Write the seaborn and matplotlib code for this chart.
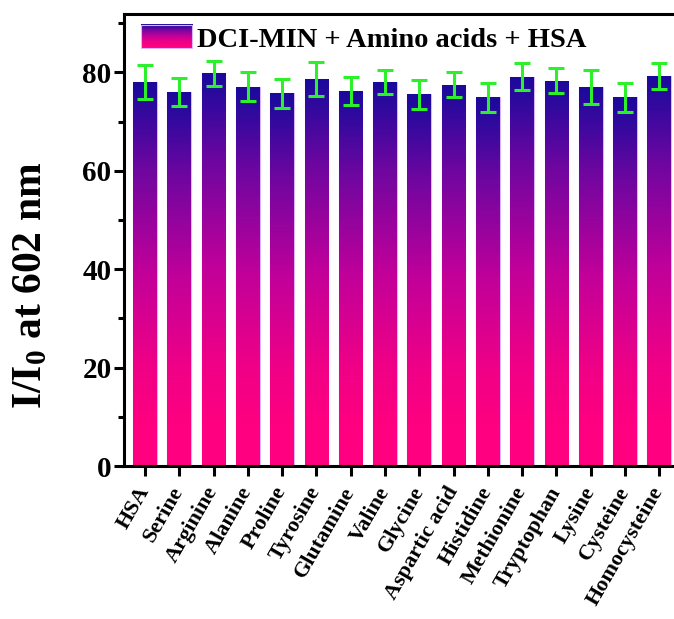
import numpy as np
import pandas as pd
import matplotlib
matplotlib.use("Agg")
import matplotlib.pyplot as plt
import seaborn as sns
from matplotlib.colors import LinearSegmentedColormap
from matplotlib.legend_handler import HandlerBase
from matplotlib.image import BboxImage
from matplotlib.transforms import Bbox, TransformedBbox
from matplotlib.patches import Patch, Rectangle
from matplotlib.ticker import MultipleLocator

categories = ["HSA", "Serine", "Arginine", "Alanine", "Proline", "Tyrosine",
              "Glutamine", "Valine", "Glycine", "Aspartic acid", "Histidine",
              "Methionine", "Tryptophan", "Lysine", "Cysteine", "Homocysteine"]
values = [78.0, 76.0, 79.8, 77.1, 75.7, 78.7, 76.2, 78.0, 75.5, 77.5, 74.9,
          79.1, 78.3, 77.0, 74.9, 79.3]
errors = [3.5, 2.8, 2.6, 3.0, 2.95, 3.45, 2.75, 2.4, 3.0, 2.6, 3.0, 2.7, 2.5,
          3.4, 2.9, 2.6]
legend_label = "DCI-MIN + Amino acids + HSA"
ylabel = r"I/I$_\mathbf{0}$ at 602 nm"

df = pd.DataFrame({"cat": categories, "val": values})

sns.set_theme(style="ticks")
plt.rcParams["font.family"] = ["Liberation Serif", "DejaVu Serif"]
plt.rcParams["font.weight"] = "bold"
plt.rcParams["text.color"] = "black"
plt.rcParams["axes.labelcolor"] = "black"
plt.rcParams["xtick.color"] = "black"
plt.rcParams["ytick.color"] = "black"
plt.rcParams["mathtext.fontset"] = "custom"
plt.rcParams["mathtext.rm"] = "Liberation Serif:bold"
plt.rcParams["mathtext.bf"] = "Liberation Serif:bold"
plt.rcParams["mathtext.it"] = "Liberation Serif:bold"

cmap = LinearSegmentedColormap.from_list(
    "grad",
    [(0.0, "#FF0080"), (0.1, "#FF0080"), (0.26, "#F00086"),
     (0.51, "#C0009A"), (0.77, "#7006A0"), (0.92, "#35099E"),
     (1.0, "#1A0A9C")])

fig = plt.figure(figsize=(6.74, 6.19), dpi=100)
ax = fig.add_axes([0.184, 0.247, 0.816, 0.730])

sns.barplot(data=df, x="cat", y="val", ax=ax, width=0.69, errorbar=None,
            color="white", edgecolor="#D9B3FF", linewidth=0.8, zorder=2)

grad = np.linspace(0, 1, 256).reshape(-1, 1)
for p in list(ax.patches):
    x0, w, h = p.get_x(), p.get_width(), p.get_height()
    im = ax.imshow(grad, extent=[x0, x0 + w, 0, h], cmap=cmap, origin="lower",
                   aspect="auto", interpolation="bicubic", zorder=2.5,
                   vmin=0, vmax=1)
    im.set_clip_path(p)

xpos = np.arange(len(categories))
ax.errorbar(xpos, values, yerr=errors, fmt="none", ecolor="#2CF02C",
            elinewidth=2.2, capsize=5.8, capthick=2.2, zorder=4)

ax.set_xlim(-0.61, 15.43)
ax.set_ylim(0, 91.8)
ax.yaxis.set_major_locator(MultipleLocator(20))
ax.yaxis.set_minor_locator(MultipleLocator(10))

ax.spines["right"].set_visible(False)
for s in ["left", "bottom", "top"]:
    ax.spines[s].set_linewidth(2.2)
    ax.spines[s].set_color("black")

ax.tick_params(axis="both", which="major", direction="out", width=2.2,
               length=7, color="black")
ax.tick_params(axis="y", which="minor", direction="out", width=2.2, length=4)
ax.tick_params(axis="y", labelsize=21, pad=2)
ax.tick_params(axis="x", labelsize=16, pad=9)

ax.set_xticks(xpos)
ax.set_xticklabels(categories, rotation=60, ha="right", va="center",
                   rotation_mode="anchor", fontweight="bold")
for lab in ax.get_yticklabels():
    lab.set_fontweight("bold")

ax.set_xlabel("")
ax.set_ylabel(ylabel, fontsize=30, fontweight="bold")
ax.yaxis.set_label_coords(-0.134, 0.40)


class GradHandler(HandlerBase):
    def create_artists(self, legend, orig_handle, xdescent, ydescent, width,
                       height, fontsize, trans):
        bb = Bbox.from_bounds(-xdescent, -ydescent, width, height)
        tbb = TransformedBbox(bb, trans)
        img = BboxImage(tbb, cmap=cmap, interpolation="bicubic",
                        origin="lower")
        img.set_data(grad)
        img.set_clim(0, 1)
        rect = Rectangle((-xdescent, -ydescent), width, height,
                         facecolor="none", edgecolor="#D9B3FF", lw=0.8,
                         transform=trans)
        return [img, rect]


handle = Patch()
leg = ax.legend([handle], [legend_label], handler_map={Patch: GradHandler()},
                loc="upper left", bbox_to_anchor=(0.03, 0.976),
                frameon=False, borderaxespad=0, borderpad=0,
                handlelength=1.8, handleheight=0.88, handletextpad=0.2,
                prop={"family": "Liberation Serif", "weight": "bold",
                      "size": 20.5})

fig.savefig("out.png", dpi=100)
